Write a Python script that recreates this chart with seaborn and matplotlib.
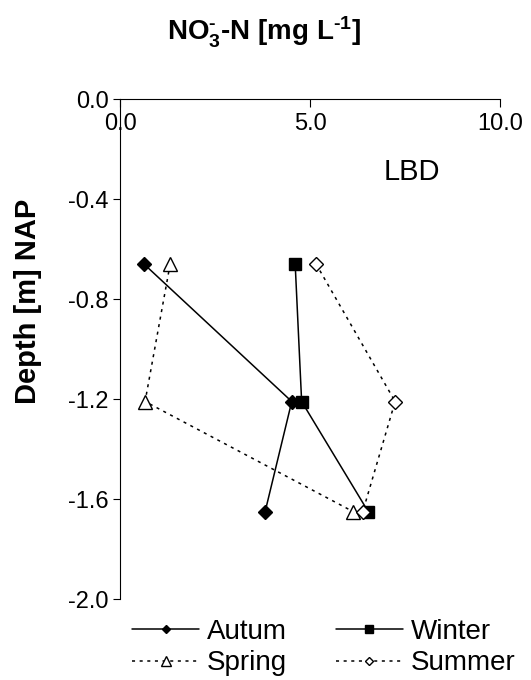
import numpy as np
import pandas as pd
import matplotlib
matplotlib.use("Agg")
import matplotlib.pyplot as plt
import seaborn as sns

# Nitrate-N concentration profiles at three sampling depths, per season
depth = [-0.66, -1.21, -1.65]
autumn = [0.63, 4.52, 3.82]
winter = [4.61, 4.78, 6.53]
spring = [1.32, 0.66, 6.13]
summer = [5.16, 7.24, 6.39]

seasons = ["Autum", "Winter", "Spring", "Summer"]
values = [autumn, winter, spring, summer]

x_ticks = [0.0, 5.0, 10.0]
y_ticks = [0.0, -0.4, -0.8, -1.2, -1.6, -2.0]

df = pd.DataFrame({
    "season": np.repeat(seasons, len(depth)),
    "no3": np.concatenate(values),
    "depth": np.tile(depth, len(seasons)),
})

sns.set_style("ticks")
plt.rcParams["font.family"] = ["Liberation Sans", "DejaVu Sans"]
plt.rcParams["axes.unicode_minus"] = False
plt.rcParams["mathtext.fontset"] = "custom"
plt.rcParams["mathtext.rm"] = "Liberation Sans:bold"
plt.rcParams["mathtext.default"] = "rm"
for key in ["text.color", "axes.labelcolor", "xtick.color", "ytick.color",
            "axes.edgecolor"]:
    plt.rcParams[key] = "black"

fig = plt.figure(figsize=(5.31, 6.80), dpi=100)
ax = fig.add_axes([0.226, 0.1191, 0.7156, 0.7353])

styles = {
    "Autum":  dict(marker="D", markersize=7, markerfacecolor="black", linestyle="-"),
    "Winter": dict(marker="s", markersize=9, markerfacecolor="black", linestyle="-"),
    "Spring": dict(marker="^", markersize=10, markerfacecolor="white", linestyle=(0, (2, 3))),
    "Summer": dict(marker="D", markersize=7, markerfacecolor="white", linestyle=(0, (2, 3))),
}

for s in seasons:
    sub = df[df["season"] == s]
    sns.lineplot(data=sub, x="no3", y="depth", sort=False, estimator=None,
                 color="black", linewidth=1.1, markeredgecolor="black",
                 markeredgewidth=1.0, label=s, ax=ax, **styles[s])

ax.set_xlim(0, 10)
ax.set_ylim(-2.0, 0.0)
ax.set_xticks(x_ticks)
ax.set_xticklabels([f"{v:.1f}" for v in x_ticks])
ax.set_yticks(y_ticks)
ax.set_yticklabels([f"{v:.1f}" for v in y_ticks])
ax.set_xlabel("")
ax.set_ylabel("")

ax.xaxis.tick_top()
ax.tick_params(axis="x", direction="in", length=5.5, width=0.8, labelsize=17,
               pad=-26, colors="black")
ax.tick_params(axis="y", direction="out", length=5, width=0.8, labelsize=17,
               pad=3, colors="black")

for side in ["right", "bottom"]:
    ax.spines[side].set_visible(False)
for side in ["left", "top"]:
    ax.spines[side].set_linewidth(0.8)
    ax.spines[side].set_color("black")

ax.text(0.768, 0.854, "LBD", transform=ax.transAxes, fontsize=21,
        ha="center", va="center")

fig.text(0.497, 1 - 32 / 680, r"NO$_3^{\text{-}}$-N [mg L$^{\text{-}1}$]",
         fontsize=20, fontweight="bold", ha="center", va="center")
fig.text(28 / 531, 1 - 301 / 680, "Depth [m] NAP", fontsize=21,
         fontweight="bold", rotation=90, ha="center", va="center")

handles, labels = ax.get_legend_handles_labels()
order = [labels.index(n) for n in ["Autum", "Spring", "Winter", "Summer"]]
ax.get_legend().remove()
fig.legend([handles[i] for i in order], [labels[i] for i in order],
           ncol=2, loc="center", bbox_to_anchor=(0.610, 0.0475),
           frameon=False, fontsize=20, handlelength=2.4, handletextpad=0.3,
           columnspacing=1.75, labelspacing=0.2, markerscale=0.65,
           borderpad=0)

fig.savefig("out.png", dpi=100)
